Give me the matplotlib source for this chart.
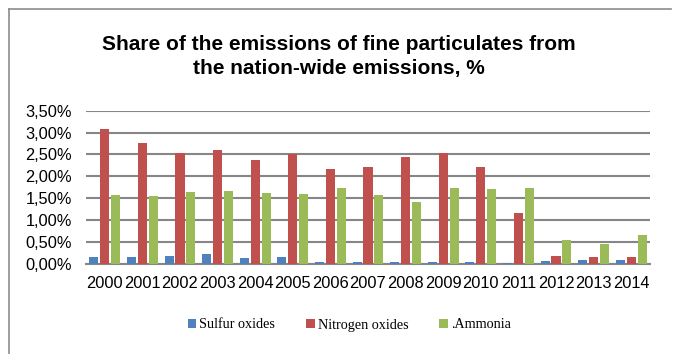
import numpy as np
import matplotlib.pyplot as plt
from matplotlib.ticker import FuncFormatter

years = ['2000', '2001', '2002', '2003', '2004', '2005', '2006', '2007',
         '2008', '2009', '2010', '2011', '2012', '2013', '2014']
sulfur = [0.15, 0.15, 0.17, 0.21, 0.13, 0.14, 0.04, 0.03,
          0.03, 0.04, 0.04, 0.01, 0.06, 0.08, 0.09]
nitrogen = [3.08, 2.75, 2.53, 2.60, 2.37, 2.50, 2.17, 2.21,
            2.44, 2.53, 2.20, 1.15, 0.17, 0.15, 0.16]
ammonia = [1.58, 1.54, 1.64, 1.65, 1.61, 1.59, 1.72, 1.56,
           1.42, 1.72, 1.70, 1.74, 0.54, 0.45, 0.66]
series_names = ['Sulfur oxides', 'Nitrogen oxides', '.Ammonia']
colors = ['#4F81BD', '#C0504D', '#9BBB59']

fig = plt.figure(figsize=(6.78, 3.54), dpi=100)
W, H = 678, 354
ax = fig.add_axes([86 / W, 1 - 263.5 / H, (650 - 86) / W, (263.5 - 110.7) / H])

# chart border (top and left visible)
fig.add_artist(plt.Line2D([9 / W, 671 / W], [1 - 9 / H, 1 - 9 / H],
                          color='#8c8c8c', lw=1.2, transform=fig.transFigure))
fig.add_artist(plt.Line2D([9 / W, 9 / W], [0, 1 - 9 / H],
                          color='#8c8c8c', lw=1.2, transform=fig.transFigure))

x = np.arange(len(years))
offs = [-0.29, 0, 0.29]
for vals, off, c, name in zip([sulfur, nitrogen, ammonia], offs, colors, series_names):
    ax.bar(x + off, vals, width=0.24, color=c, label=name, zorder=3)

ax.set_xlim(-0.5, len(years) - 0.5)
ax.set_ylim(0, 3.5)
ax.set_yticks(np.arange(0, 3.51, 0.5))
ax.yaxis.set_major_formatter(FuncFormatter(lambda v, p: f'{v:.2f}%'.replace('.', ',')))
ax.set_xticks(x)
ax.set_xticklabels(years)
ax.grid(axis='y', color='#868686', lw=1.5, zorder=0)
for s in ['top', 'right', 'left']:
    ax.spines[s].set_visible(False)
ax.spines['bottom'].set_color('#868686')
ax.spines['bottom'].set_linewidth(1.5)
ax.tick_params(axis='both', length=0, labelsize=11.8, colors='black')
ax.tick_params(axis='x', pad=9)
ax.tick_params(axis='y', pad=10)
for lab in ax.get_xticklabels() + ax.get_yticklabels():
    lab.set_family('Liberation Sans')

fig.text(0.5, 1 - 56.5 / H, 'Share of the emissions of fine particulates from\nthe nation-wide emissions, %',
         ha='center', va='center', fontsize=15, fontweight='bold',
         family='Liberation Sans', linespacing=1.38)

fig.legend(loc='center', bbox_to_anchor=(0.515, 1 - 325 / H), ncol=3, frameon=False,
           prop={'family': 'Liberation Serif', 'size': 10.2},
           handlelength=0.6, handleheight=0.6, handletextpad=0.2, columnspacing=2.2)

fig.savefig('out.png', dpi=100)
